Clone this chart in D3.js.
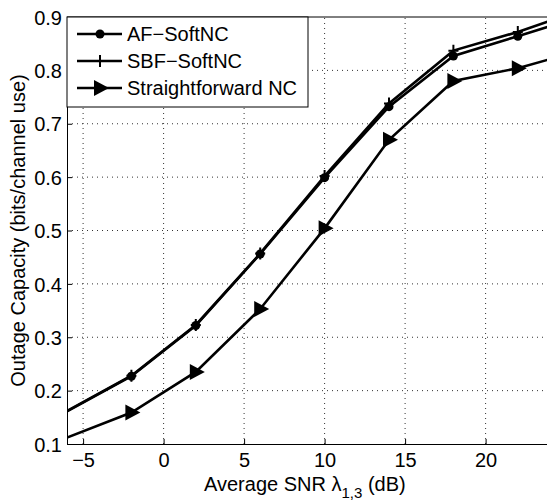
<!DOCTYPE html>
<meta charset="utf-8">
<style>
  body { margin: 0; background: #fff; }
  text { font-family: "Liberation Sans", Arial, sans-serif; fill: #000; }
</style>
<body>
<div id="chart"></div>
<script src="https://d3js.org/d3.v7.min.js"></script>
<script>
// data
var snr = [-6, -2, 2, 6, 10, 14, 18, 22, 24];
var afSoft = [0.161, 0.227, 0.322, 0.456, 0.599, 0.732, 0.827, 0.864, 0.883];
var sbfSoft = [0.162, 0.228, 0.323, 0.457, 0.602, 0.738, 0.837, 0.872, 0.893];
var straightNC = [0.112, 0.159, 0.235, 0.353, 0.504, 0.670, 0.780, 0.804, 0.821];
var seriesNames = ["AF\u2212SoftNC", "SBF\u2212SoftNC", "Straightforward NC"];
var xTicks = [-5, 0, 5, 10, 15, 20];
var yTicks = [0.1, 0.2, 0.3, 0.4, 0.5, 0.6, 0.7, 0.8, 0.9];

var W = 547, H = 502;
var margin = {top: 17, right: 0, bottom: 58, left: 67};

var svg = d3.select("#chart").append("svg")
    .attr("width", W).attr("height", H);

var x = d3.scaleLinear().domain([-6, 24]).range([margin.left, 550]);
var y = d3.scaleLinear().domain([0.1, 0.9]).range([H - margin.bottom, margin.top]);

svg.append("clipPath").attr("id", "clip")
  .append("rect")
    .attr("x", x(-6)).attr("y", y(0.9))
    .attr("width", x(24) - x(-6)).attr("height", y(0.1) - y(0.9));

// grid
var grid = svg.append("g").attr("stroke", "#333").attr("stroke-width", 1)
    .attr("stroke-dasharray", "1,4");
grid.selectAll(".gx").data(xTicks).enter().append("line")
    .attr("x1", d => x(d)).attr("x2", d => x(d))
    .attr("y1", y(0.1)).attr("y2", y(0.9));
grid.selectAll(".gy").data(yTicks.slice(1, -1)).enter().append("line")
    .attr("x1", x(-6)).attr("x2", x(24))
    .attr("y1", d => y(d)).attr("y2", d => y(d));

// axes
var xAxis = svg.append("g")
    .attr("transform", "translate(0," + y(0.1) + ")")
    .call(d3.axisBottom(x).tickValues(xTicks).tickSizeInner(-5).tickSizeOuter(0)
      .tickPadding(9).tickFormat(d => d < 0 ? "\u2212" + Math.abs(d) : d));
var yAxis = svg.append("g")
    .attr("transform", "translate(" + x(-6) + ",0)")
    .call(d3.axisLeft(y).tickValues(yTicks).tickSizeInner(-5).tickSizeOuter(0)
      .tickPadding(5).tickFormat(d3.format(".1f")));
[xAxis, yAxis].forEach(function(a) {
  a.selectAll("text").style("font-size", "20px").attr("fill", "#000");
  a.selectAll("line, path").attr("stroke", "#000");
});
yAxis.selectAll("text").attr("dy", "0.36em");

// top border
svg.append("line").attr("x1", x(-6)).attr("x2", x(24))
  .attr("y1", y(0.9)).attr("y2", y(0.9)).attr("stroke", "#000");

// lines
var plot = svg.append("g").attr("clip-path", "url(#clip)");
var lineGen = function(vals) {
  return d3.line().x((d, i) => x(snr[i])).y(d => y(d))(vals);
};
[straightNC, afSoft, sbfSoft].forEach(function(vals) {
  plot.append("path").attr("d", lineGen(vals))
    .attr("fill", "none").attr("stroke", "#000").attr("stroke-width", 2.6);
});

// markers (interior points only)
var inner = snr.map((s, i) => i).slice(1, -1);
var circleM = function(g, cx, cy) {
  g.append("circle").attr("cx", cx).attr("cy", cy).attr("r", 4.5).attr("fill", "#000");
};
var plusM = function(g, cx, cy) {
  g.append("path").attr("d", "M" + (cx - 5) + "," + cy + "H" + (cx + 5) + "M" + cx + "," + (cy - 6) + "V" + (cy + 6))
    .attr("stroke", "#000").attr("stroke-width", 2);
};
var triM = function(g, cx, cy) {
  g.append("path").attr("d", "M" + (cx - 6) + "," + (cy - 8) + "L" + (cx + 9) + "," + cy + "L" + (cx - 6) + "," + (cy + 8) + "Z")
    .attr("fill", "#000");
};
inner.forEach(function(i) {
  triM(plot, x(snr[i]), y(straightNC[i]));
  circleM(plot, x(snr[i]), y(afSoft[i]));
  plusM(plot, x(snr[i]), y(sbfSoft[i]));
});

// legend
var lg = svg.append("g");
lg.append("rect").attr("x", x(-6)).attr("y", y(0.9))
  .attr("width", 308 - x(-6)).attr("height", 107 - y(0.9))
  .attr("fill", "#fff").attr("stroke", "#000").attr("stroke-width", 1);
var markers = [circleM, plusM, triM];
seriesNames.forEach(function(name, i) {
  var cy = 34 + i * 27;
  lg.append("line").attr("x1", 77).attr("x2", 122).attr("y1", cy).attr("y2", cy)
    .attr("stroke", "#000").attr("stroke-width", 2.6);
  markers[i](lg, 100, cy);
  lg.append("text").attr("x", 127).attr("y", cy).attr("dy", "0.36em")
    .style("font-size", "20px").text(name);
});

// axis titles
var xt = svg.append("text").attr("x", 204).attr("y", 491).style("font-size", "20px");
xt.append("tspan").text("Average SNR \u03bb");
xt.append("tspan").attr("dy", 7).style("font-size", "15px").text("1,3");
xt.append("tspan").attr("dy", -7).text(" (dB)");

svg.append("text")
  .attr("transform", "translate(25," + ((y(0.1) + y(0.9)) / 2) + ") rotate(-90)")
  .attr("text-anchor", "middle").style("font-size", "20px")
  .text("Outage Capacity (bits/channel use)");
</script>
</body>
